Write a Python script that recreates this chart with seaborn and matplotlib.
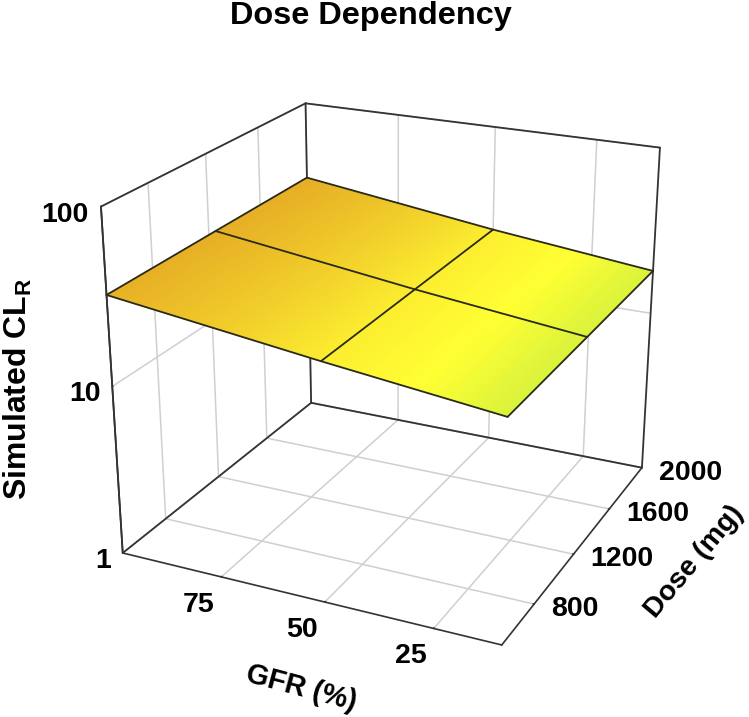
import numpy as np
import seaborn as sns
import matplotlib.pyplot as plt
from mpl_toolkits.mplot3d import proj3d

# data
gfr = [100, 50, 10]
dose = [500, 1250, 2000]
clr = [[33.0, 33.4, 33.7],
       [23.4, 23.4, 23.4],
       [18.2, 18.25, 18.3]]

gfr_ticks = [75, 50, 25]
dose_ticks = [800, 1200, 1600, 2000]
clr_ticks = [1, 10, 100]

W, H = 749, 717
sns.set_theme(style='white')
plt.rcParams['font.family'] = ['Liberation Sans', 'DejaVu Sans']
plt.rcParams['font.weight'] = 'bold'
plt.rcParams['text.color'] = 'black'
plt.rcParams['mathtext.fontset'] = 'custom'
plt.rcParams['mathtext.bf'] = 'Liberation Sans:bold'
plt.rcParams['grid.color'] = '#cfcfcf'
plt.rcParams['grid.linewidth'] = 1.1
plt.rcParams['axes.edgecolor'] = '#333333'
plt.rcParams['axes.linewidth'] = 1.2
plt.rcParams['xtick.color'] = '#333333'
plt.rcParams['ytick.color'] = '#333333'

cmap = sns.blend_palette(['#d8f23c', '#ffff33', '#fcee30', '#f3d42c', '#ecbf28', '#e6ae26'], as_cmap=True)

fig = plt.figure(figsize=(W/100, H/100), dpi=100)
ax = fig.add_axes([58.18/W, 32.83/H, 654.41/W, 654.41/H], projection='3d', computed_zorder=False)
ax.set_xlim(gfr[0], gfr[-1], view_margin=0)
ax.set_ylim(dose[0], dose[-1], view_margin=0)
ax.set_zlim(0, 2, view_margin=0)
ax.view_init(elev=22.407, azim=-64.783)
ax.set_proj_type('persp', focal_length=0.5274)
ax.set_box_aspect((1.1249, 1.1191, 1))

for a in (ax.xaxis, ax.yaxis, ax.zaxis):
    a.set_pane_color('white')
    a._axinfo['tick'].update(inward_factor=0, outward_factor=0.025)

# box edges the grid would otherwise cover
x0, x1 = gfr[0], gfr[-1]
y0, y1 = dose[0], dose[-1]
frame = [([x0, x0], [y0, y1], [2, 2]), ([x0, x1], [y1, y1], [2, 2]),
         ([x0, x0], [y0, y0], [0, 2]), ([x0, x0], [y1, y1], [0, 2]),
         ([x1, x1], [y1, y1], [0, 2]), ([x0, x0], [y0, y1], [0, 0]),
         ([x0, x1], [y1, y1], [0, 0])]
for xs, ys, zs in frame:
    ax.plot(xs, ys, zs, color='#333333', lw=1.3, zorder=1)

# surface, log scale held as log10 values
log_clr = np.log10(np.array(clr))
fine_x = np.linspace(gfr[0], gfr[-1], 90)
fine_y = np.linspace(dose[0], dose[-1], 90)
z_by_dose = np.array([np.interp(fine_y, dose, row) for row in log_clr])
fine_z = np.array([np.interp(fine_x, gfr[::-1], col[::-1]) for col in z_by_dose.T])
X, Y = np.meshgrid(fine_x, fine_y)
lo, hi = log_clr.min(), log_clr.max()
colors = cmap((fine_z - lo) / (hi - lo))
ax.plot_surface(X, Y, fine_z, facecolors=colors, rstride=1, cstride=1, shade=False,
                linewidth=0, antialiased=False, zorder=2)

for i, g in enumerate(gfr):
    ax.plot([g]*len(dose), dose, log_clr[i], color='#2a2a18', lw=1.3, zorder=3)
for j, d in enumerate(dose):
    ax.plot(gfr, [d]*len(gfr), log_clr[:, j], color='#2a2a18', lw=1.3, zorder=3)

ax.set_xticks(gfr_ticks)
ax.set_yticks(dose_ticks)
ax.set_zticks(np.log10(clr_ticks))
ax.set_xticklabels([])
ax.set_yticklabels([])
ax.set_zticklabels([])
ax.zaxis.set_ticks_position('lower')

# tick labels hung off the projected tick positions
M = ax.get_proj()

def tick_label(x, y, z, text, dx, dy, ha):
    px, py, _ = proj3d.proj_transform(x, y, z, M)
    ax.annotate(text, xy=(px, py), xytext=(dx*0.72, -dy*0.72), textcoords='offset points',
                fontsize=20.5, fontweight='bold', ha=ha, va='center', annotation_clip=False)

for g in gfr_ticks:
    tick_label(g, y0, 0, str(g), -23, 28, 'center')
for d in dose_ticks:
    tick_label(x1, d, 0, str(d), 17, 5, 'left')
for c in clr_ticks:
    tick_label(x0, y0, np.log10(c), str(c), -12, 8, 'right')

fig.text(301/W, 1-688/H, 'GFR (%)', fontsize=20.7, fontweight='bold', rotation=-15, ha='center', va='center')
fig.text(694/W, 1-562/H, 'Dose (mg)', fontsize=20.3, fontweight='bold', rotation=50, ha='center', va='center')
fig.text(18/W, 1-389/H, r'Simulated CL$_{\mathbf{R}}$', fontsize=23, fontweight='bold',
         rotation=90, ha='center', va='center')
fig.text(371/W, 1-16/H, 'Dose Dependency', fontsize=23.4, fontweight='bold', ha='center', va='center')

fig.savefig('out.png', dpi=100)
